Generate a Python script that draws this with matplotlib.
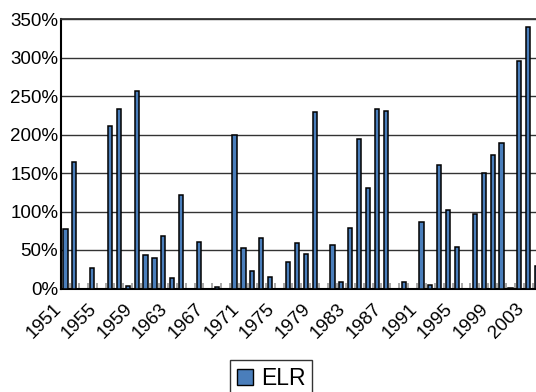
import numpy as np
import matplotlib
matplotlib.use("Agg")
import matplotlib.pyplot as plt
from matplotlib.patches import Patch
from matplotlib.transforms import ScaledTranslation

plt.rcParams['font.family'] = ['Liberation Sans', 'DejaVu Sans']

# ELR by year, in percent
years = list(range(1951, 2005))
elr = [77, 164, 0, 26, 0, 211, 233, 3, 257, 43,
       40, 68, 13, 121, 0, 60, 0, 2, 0, 199,
       52, 23, 66, 15, 0, 35, 59, 45, 229, 0,
       56, 8, 79, 194, 130, 233, 230, 0, 8, 0,
       87, 4, 160, 102, 54, 0, 97, 150, 174, 189,
       1, 296, 340, 29]
tick_years = list(range(1951, 2004, 4))

bar_color = '#4a7ebb'

fig = plt.figure(figsize=(5.36, 3.92), dpi=100)
W, H = 536, 392
px_per_cat = 8.9
n_cats = 55
ax = fig.add_axes([61 / W, (H - 288.5) / H, n_cats * px_per_cat / W, 269.5 / H])

x = np.arange(len(years))
ax.bar(x, elr, width=0.48, color=bar_color, edgecolor='black', linewidth=1.1, zorder=3)

ax.set_xlim(-0.5, n_cats - 0.5)
ax.set_ylim(0, 350)
ax.set_yticks(range(0, 351, 50))
ax.set_yticklabels([f'{v}%' for v in range(0, 351, 50)], fontsize=13.5)
ax.yaxis.grid(True, color='#333333', linewidth=1.0, zorder=0)
ax.tick_params(axis='y', length=0, pad=2)

ax.set_xticks([years.index(y) for y in tick_years])
ax.set_xticklabels([str(y) for y in tick_years], fontsize=13.5, rotation=45,
                   rotation_mode='anchor', ha='right', va='center')
ax.tick_params(axis='x', which='major', length=0, pad=13)
ax.set_xticks(np.arange(-0.5, n_cats, 1.0), minor=True)
ax.tick_params(axis='x', which='minor', direction='in', length=4, width=1.2, color='#9a9a9a')
# nudge the rotated year labels left so their ends sit under the bars
shift = ScaledTranslation(-7 / 100, 0, fig.dpi_scale_trans)
for lbl in ax.get_xticklabels():
    lbl.set_transform(lbl.get_transform() + shift)

for side in ['left', 'bottom']:
    ax.spines[side].set_color('black')
    ax.spines[side].set_linewidth(1.5)
ax.spines['top'].set_color('#333333')
ax.spines['top'].set_linewidth(1.3)
ax.spines['right'].set_visible(False)

leg = fig.legend(handles=[Patch(facecolor=bar_color, edgecolor='black', linewidth=1.0, label='ELR')],
                 loc='upper left', bbox_to_anchor=(230 / W, 1 - 360 / H),
                 fontsize=16.5, frameon=True, fancybox=False, handlelength=0.7, handleheight=0.7,
                 handletextpad=0.35, borderpad=0.3, borderaxespad=0)
leg.get_frame().set_edgecolor('black')
leg.get_frame().set_linewidth(1.0)

fig.savefig('out.png', dpi=100)
